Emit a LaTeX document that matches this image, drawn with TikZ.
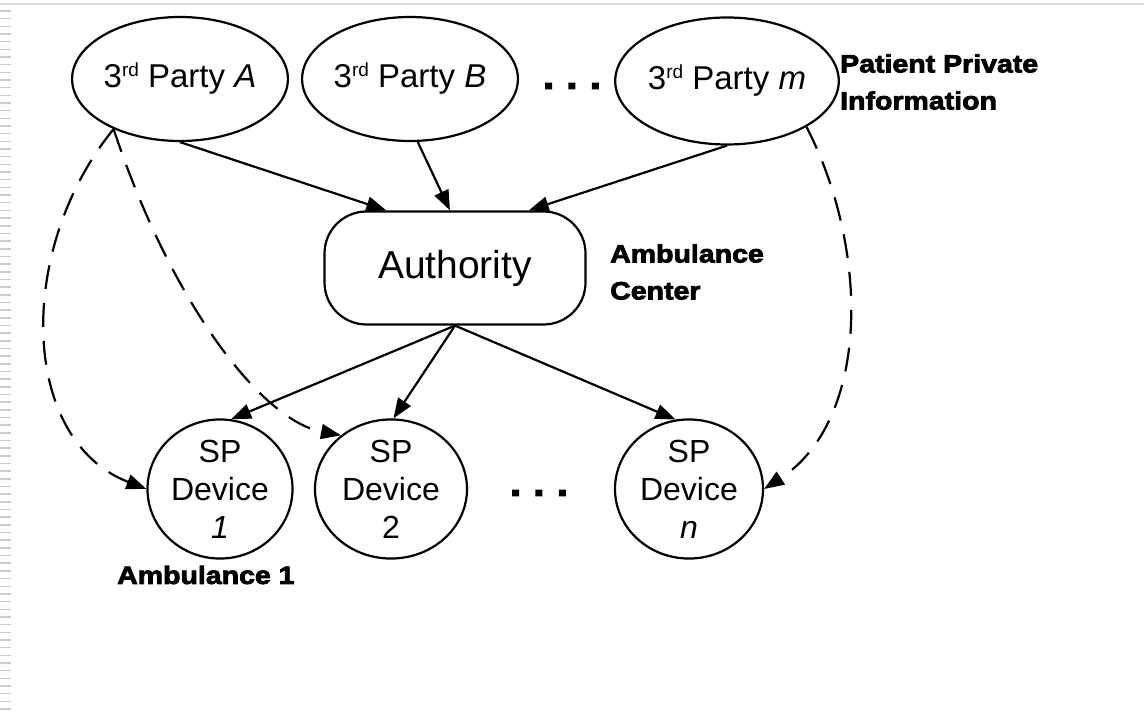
\documentclass[tikz,border=0pt]{standalone}
\usepackage{fontspec}
\setmainfont{Liberation Sans}
\newfontfamily\heavyfont[FakeStretch=1.14,FakeBold=3.2]{Liberation Sans Bold}
\usetikzlibrary{shapes.geometric,arrows.meta}

\newcommand{\ordsup}[1]{\raisebox{11pt}{\fontsize{19}{19}\selectfont #1}}

\tikzset{
  party/.style={draw, ellipse, line width=2.2pt, inner sep=0pt, minimum width=214pt, minimum height=124pt, font=\fontsize{33}{38}\selectfont},
  device/.style={draw, ellipse, line width=2.2pt, inner sep=0pt, align=center, minimum height=122pt, font=\fontsize{32}{38}\selectfont},
  tag/.style={inner sep=0pt, anchor=west, align=left, font=\heavyfont\fontsize{25}{37}\selectfont},
  flow/.style={line width=2.2pt, -{Triangle[length=20pt,width=15pt]}},
}

\begin{document}
\begin{tikzpicture}[x=1pt, y=-1pt]
\useasboundingbox (0,0) rectangle (1144,719);
\draw[black!15, line width=2.5pt] (0,4) -- (1144,4);
\foreach \k in {0,...,91} \draw[black!20, line width=1.5pt] (0,11+7.67*\k) -- (11,11+7.67*\k);

\node[party] (pA) at (180,79) {3\ordsup{rd} Party \textit{A}};
\node[party, minimum width=212pt] (pB) at (410,79) {3\ordsup{rd} Party \textit{B}};
\node[party, minimum width=206pt, minimum height=127pt] (pM) at (727,81) {3\ordsup{rd} Party \textit{m}};
\node[font=\heavyfont\fontsize{36}{38}\selectfont] (dotsTop) at (572,86) {.\,\,.\,\,.};

\node[draw, rounded corners=42pt, line width=2.2pt, minimum width=261pt, minimum height=113pt, font=\fontsize{39}{44}\selectfont] (auth) at (455,268) {Authority};

\node[device, minimum width=145pt] (d1) at (220,489) {SP\\Device\\\textit{1}};
\node[device, minimum width=152pt] (d2) at (391,489) {SP\\Device\\2};
\node[device, minimum width=148pt] (dn) at (689,489) {SP\\Device\\\textit{n}};
\node[font=\heavyfont\fontsize{36}{38}\selectfont] (dotsBot) at (539,493) {.\,\,.\,\,.};

\node[tag] (info) at (840,82) {Patient Private\\Information};
\node[tag] (center) at (610,272) {Ambulance\\Center};
\node[tag] (amb) at (117,575) {Ambulance 1};

\draw[flow] (pA.south) -- (auth.140);
\draw[flow] (pB.277) -- (auth.95);
\draw[flow] (pM.south) -- (auth.38);

\draw[flow] (auth.south) -- (d1.81);
\draw[flow] (auth.south) -- (d2.88);
\draw[flow] (auth.south) -- (dn.101);

\draw[flow, dash pattern=on 24pt off 14pt] (pA.217) .. controls (15,250) and (20,440) .. (d1.west);
\draw[flow, dash pattern=on 24pt off 14pt] (pA.217) .. controls (170,300) and (260,420) .. (d2.133);
\draw[flow, dash pattern=on 24pt off 14pt] (pM.330) .. controls (870,250) and (870,420) .. (dn.east);
\end{tikzpicture}
\end{document}
